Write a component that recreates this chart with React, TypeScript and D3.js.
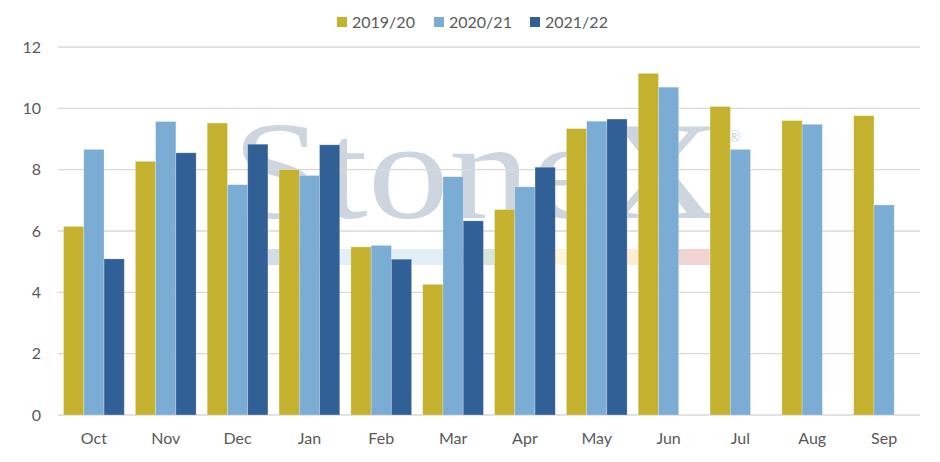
import React, { useEffect, useRef } from "react";
import * as d3 from "d3";

const months = ["Oct", "Nov", "Dec", "Jan", "Feb", "Mar", "Apr", "May", "Jun", "Jul", "Aug", "Sep"];
const seriesNames = ["2019/20", "2020/21", "2021/22"];
const s2019 = [6.15, 8.27, 9.52, 8.0, 5.48, 4.26, 6.7, 9.34, 11.14, 10.06, 9.6, 9.76];
const s2020 = [8.66, 9.57, 7.51, 7.81, 5.53, 7.77, 7.44, 9.58, 10.69, 8.66, 9.48, 6.85];
const s2021: (number | null)[] = [5.09, 8.55, 8.83, 8.81, 5.08, 6.33, 8.08, 9.65, null, null, null, null];
const yTicks = [0, 2, 4, 6, 8, 10, 12];
const colors = ["#C4B12E", "#7AACD4", "#306095"];

const width = 940;
const height = 462;
const margin = { top: 47, right: 20, bottom: 47, left: 58 };
const font = "Lato, 'Noto Sans', sans-serif";

const App: React.FC = () => {
  const svgRef = useRef<SVGSVGElement>(null);

  useEffect(() => {
    if (!svgRef.current) return;
    const root = d3.select(svgRef.current);
    root.selectAll("*").remove();

    const x = d3
      .scaleBand()
      .domain(months)
      .range([margin.left, width - margin.right])
      .paddingInner(0.155)
      .paddingOuter(0.0775);
    const x1 = d3.scaleBand().domain(seriesNames).range([0, x.bandwidth()]);
    const y = d3.scaleLinear().domain([0, 12]).range([height - margin.bottom, margin.top]);

    // Watermark
    const wm = root.append("g");
    wm.append("text")
      .attr("x", 232)
      .attr("y", 218)
      .attr("textLength", 488)
      .attr("lengthAdjust", "spacingAndGlyphs")
      .style("font-family", "'Liberation Serif', 'DejaVu Serif', serif")
      .style("font-size", "140px")
      .attr("fill", "#cdd6df")
      .text("StoneX");
    wm.append("text")
      .attr("x", 728)
      .attr("y", 142)
      .style("font-family", font)
      .style("font-size", "15px")
      .attr("fill", "#cdd6df")
      .text("®");
    const bandColors = ["#d4dce6", "#e4eef7", "#e4eef7", "#d7e5dc", "#fbf5dc", "#fdebd2", "#f2d4d5"];
    const bandX = d3.scaleBand().domain(d3.range(bandColors.length).map(String)).range([268, 710]);
    wm.selectAll("rect")
      .data(bandColors)
      .join("rect")
      .attr("x", (_, i) => bandX(String(i)) as number)
      .attr("y", 249)
      .attr("width", bandX.bandwidth() + 0.5)
      .attr("height", 16)
      .attr("fill", (d) => d);

    // Gridlines
    root
      .append("g")
      .selectAll("line")
      .data(yTicks)
      .join("line")
      .attr("x1", margin.left)
      .attr("x2", width - margin.right)
      .attr("y1", (d) => y(d))
      .attr("y2", (d) => y(d))
      .attr("stroke", "#d9d9d9")
      .attr("stroke-width", 1.3);

    // Y labels
    root
      .append("g")
      .selectAll("text")
      .data(yTicks)
      .join("text")
      .attr("x", 41)
      .attr("y", (d) => y(d))
      .attr("dy", "0.35em")
      .attr("text-anchor", "end")
      .style("font-family", font)
      .style("font-size", "16px")
      .attr("fill", "#595959")
      .text((d) => d);

    // Bars
    const allSeries = [s2019, s2020, s2021];
    const bars = root.append("g");
    allSeries.forEach((vals, si) => {
      bars
        .append("g")
        .selectAll("rect")
        .data(vals.map((v, i) => ({ month: months[i], v })).filter((d) => d.v != null))
        .join("rect")
        .attr("x", (d) => (x(d.month) as number) + (x1(seriesNames[si]) as number))
        .attr("y", (d) => y(d.v as number))
        .attr("width", x1.bandwidth())
        .attr("height", (d) => y(0) - y(d.v as number))
        .attr("fill", colors[si])
        .attr("stroke", "#ffffff")
        .attr("stroke-opacity", 0.35)
        .attr("stroke-width", 0.7);
    });

    // X labels
    root
      .append("g")
      .selectAll("text")
      .data(months)
      .join("text")
      .attr("x", (d) => (x(d) as number) + x.bandwidth() / 2)
      .attr("y", 444)
      .attr("text-anchor", "middle")
      .style("font-family", font)
      .style("font-size", "16px")
      .attr("fill", "#595959")
      .text((d) => d);

    // Legend
    const legendX = [337, 434, 530];
    const legend = root
      .append("g")
      .selectAll("g")
      .data(seriesNames)
      .join("g")
      .attr("transform", (_, i) => `translate(${legendX[i]},22)`);
    legend
      .append("rect")
      .attr("x", 0)
      .attr("y", -5)
      .attr("width", 10)
      .attr("height", 10)
      .attr("fill", (_, i) => colors[i]);
    legend
      .append("text")
      .attr("x", 15)
      .attr("y", 0)
      .attr("dy", "0.35em")
      .style("font-family", font)
      .style("font-size", "16px")
      .attr("fill", "#595959")
      .text((d) => d);
  }, []);

  return (
    <svg
      ref={svgRef}
      width={width}
      height={height}
      style={{ position: "absolute", left: 0, top: 0, background: "#ffffff" }}
    ></svg>
  );
};

export default App;
